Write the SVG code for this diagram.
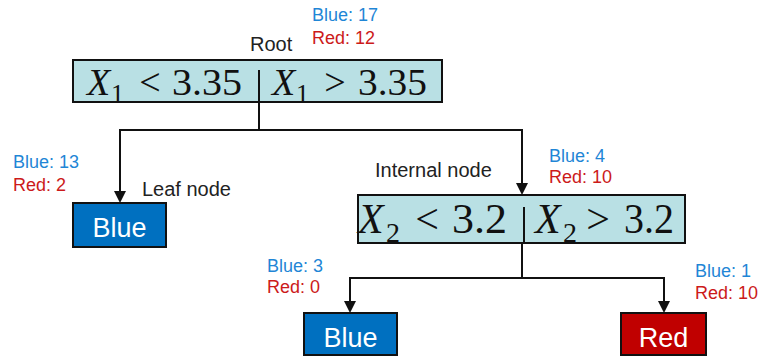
<svg xmlns="http://www.w3.org/2000/svg" width="760" height="360" viewBox="0 0 760 360">
  <style>
    .split { fill: #b9e0e4; stroke: #111; stroke-width: 2; }
    .leafB { fill: #0070c0; stroke: #111; stroke-width: 2; }
    .leafR { fill: #c00000; stroke: #111; stroke-width: 2; }
    .bar { stroke: #111; stroke-width: 2; }
    .math { font-family: "Liberation Serif", "DejaVu Serif", serif; fill: #111; }
    .var { font-style: italic; }
    .cap { font-family: "Liberation Sans", Arial, sans-serif; font-size: 20px; fill: #222; }
    .cb { font-family: "Liberation Sans", Arial, sans-serif; font-size: 18px; fill: #1f86d6; }
    .cr { font-family: "Liberation Sans", Arial, sans-serif; font-size: 18px; fill: #cc1a1a; }
    .cls { font-family: "Liberation Sans", Arial, sans-serif; font-size: 27px; fill: #ffffff; text-anchor: middle; }
    .wire { fill: none; stroke: #111; stroke-width: 2; }
    .head { fill: #111; }
  </style>

  <!-- connectors -->
  <g id="connectors">
    <path class="wire" d="M259,102 V130 H120 V201"/>
    <path class="wire" d="M259,130 H522 V193"/>
    <path class="wire" d="M522,243 V278 H350 V311"/>
    <path class="wire" d="M522,278 H664 V311"/>
    <path class="head" d="M114,191 L126,191 L120,203 Z"/>
    <path class="head" d="M516,183 L528,183 L522,195 Z"/>
    <path class="head" d="M344,301 L356,301 L350,313 Z"/>
    <path class="head" d="M658,301 L670,301 L664,313 Z"/>
  </g>

  <!-- root split -->
  <g id="root">
    <rect class="split" x="73" y="60" width="369" height="42"/>
    <line class="bar" x1="259" y1="70" x2="259" y2="102"/>
    <text class="math var" x="87" y="95" font-size="38">X</text>
    <text class="math" x="111" y="102" font-size="26">1</text>
    <text class="math" x="150" y="95" font-size="38" text-anchor="middle">&lt;</text>
    <text class="math" x="172" y="95" font-size="38" textLength="70" lengthAdjust="spacingAndGlyphs">3.35</text>
    <text class="math var" x="272" y="95" font-size="38">X</text>
    <text class="math" x="296" y="102" font-size="26">1</text>
    <text class="math" x="335" y="95" font-size="38" text-anchor="middle">&gt;</text>
    <text class="math" x="358" y="95" font-size="38" textLength="69" lengthAdjust="spacingAndGlyphs">3.35</text>
    <text class="cap" x="250" y="51">Root</text>
    <text class="cb" x="312" y="21">Blue: 17</text>
    <text class="cr" x="312" y="44">Red: 12</text>
  </g>

  <!-- left leaf -->
  <g id="leaf-left">
    <rect class="leafB" x="73" y="203" width="93" height="44"/>
    <text class="cls" x="119.5" y="237">Blue</text>
    <text class="cap" x="142" y="196">Leaf node</text>
    <text class="cb" x="13" y="168">Blue: 13</text>
    <text class="cr" x="13" y="191">Red: 2</text>
  </g>

  <!-- internal split -->
  <g id="internal">
    <rect class="split" x="358" y="195" width="327" height="48"/>
    <line class="bar" x1="524" y1="207" x2="524" y2="243"/>
    <text class="math var" x="358" y="233" font-size="42">X</text>
    <text class="math" x="386" y="242" font-size="28">2</text>
    <text class="math" x="427" y="233" font-size="42" text-anchor="middle">&lt;</text>
    <text class="math" x="452" y="233" font-size="42" textLength="55" lengthAdjust="spacingAndGlyphs">3.2</text>
    <text class="math var" x="535" y="233" font-size="42">X</text>
    <text class="math" x="563" y="242" font-size="28">2</text>
    <text class="math" x="598" y="233" font-size="42" text-anchor="middle">&gt;</text>
    <text class="math" x="624" y="233" font-size="42" textLength="50" lengthAdjust="spacingAndGlyphs">3.2</text>
    <text class="cap" x="375" y="177">Internal node</text>
    <text class="cb" x="549" y="162">Blue: 4</text>
    <text class="cr" x="549" y="183">Red: 10</text>
  </g>

  <!-- lower left leaf -->
  <g id="leaf-blue">
    <rect class="leafB" x="304" y="313" width="93" height="42"/>
    <text class="cls" x="350.5" y="347">Blue</text>
    <text class="cb" x="267" y="272">Blue: 3</text>
    <text class="cr" x="267" y="293">Red: 0</text>
  </g>

  <!-- lower right leaf -->
  <g id="leaf-red">
    <rect class="leafR" x="621" y="313" width="85" height="42"/>
    <text class="cls" x="663.5" y="347">Red</text>
    <text class="cb" x="695" y="277">Blue: 1</text>
    <text class="cr" x="695" y="299">Red: 10</text>
  </g>
</svg>
